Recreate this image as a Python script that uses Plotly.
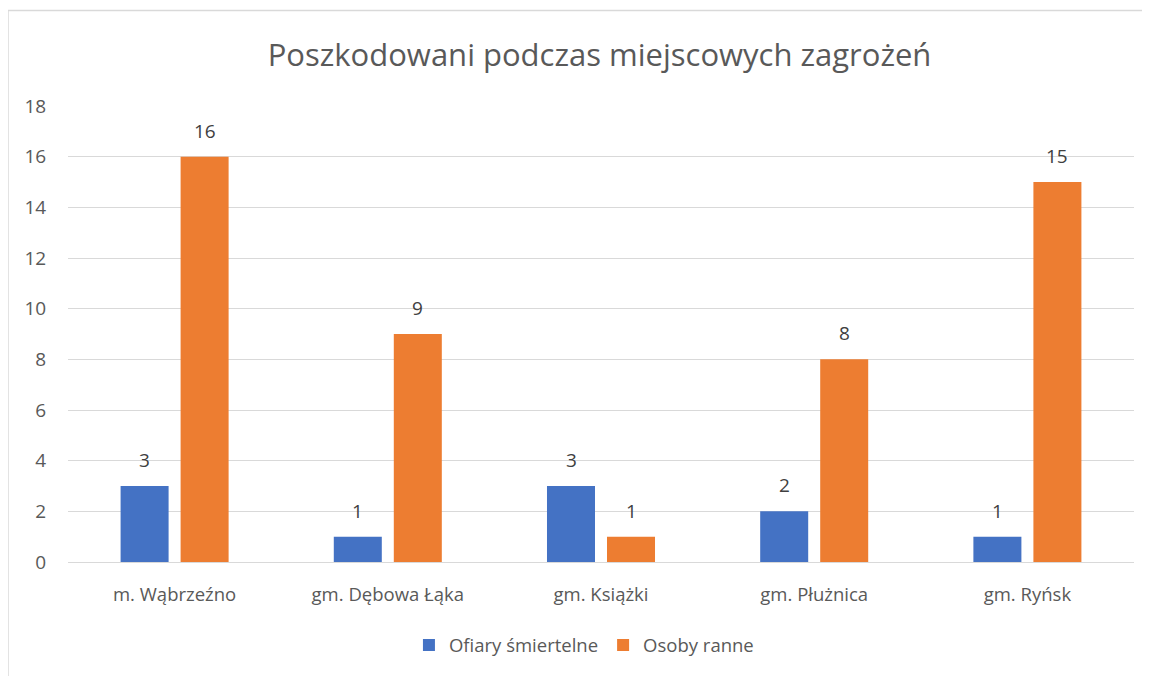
import plotly.graph_objects as go

categories = ["m. Wąbrzeźno", "gm. Dębowa Łąka", "gm. Książki", "gm. Płużnica", "gm. Ryńsk"]
ofiary = [3, 1, 3, 2, 1]
ranne = [16, 9, 1, 8, 15]
series_names = ["Ofiary śmiertelne", "Osoby ranne"]
colors = ["#4472C4", "#ED7D31"]
tick_vals = list(range(0, 19, 2))

FONT = "Open Sans"
fig = go.Figure()
for name, vals, col in zip(series_names, [ofiary, ranne], colors):
    fig.add_trace(go.Bar(x=categories, y=vals, name=name, marker_color=col,
                         marker_line_width=0, hoverinfo="x+y"))

annotations = []
for shift, vals in zip([-30, 30], [ofiary, ranne]):
    for c, v in zip(categories, vals):
        annotations.append(dict(x=c, y=v, xref="x", yref="y", text=str(v),
                                showarrow=False, yanchor="bottom", xshift=shift, yshift=11,
                                font=dict(family=FONT, size=19, color="#404040")))

fig.update_layout(
    width=1142, height=668,
    margin=dict(l=60, r=16, t=98, b=112),
    paper_bgcolor="white", plot_bgcolor="white",
    barmode="group", bargap=0.437, bargroupgap=0.2,
    title=dict(text="Poszkodowani podczas miejscowych zagrożeń", x=0.518, xanchor="center",
               y=0.93, yanchor="middle",
               font=dict(family=FONT, size=31, color="#595959")),
    font=dict(family=FONT, size=18.5, color="#595959"),
    xaxis=dict(showgrid=False, showline=True, linecolor="#d9d9d9", linewidth=1,
               ticks="outside", ticklen=16, tickcolor="rgba(0,0,0,0)",
               tickfont=dict(family=FONT, size=18.5, color="#595959")),
    yaxis=dict(range=[0, 18], tickvals=tick_vals, showgrid=True, gridcolor="#d9d9d9",
               gridwidth=1, zeroline=False, showline=False,
               ticks="outside", ticklen=17, tickcolor="rgba(0,0,0,0)",
               tickfont=dict(family=FONT, size=19, color="#595959")),
    legend=dict(orientation="h", x=0.484, xanchor="center", y=-0.183, yanchor="middle",
                font=dict(family=FONT, size=18.5, color="#595959"), itemwidth=30,
                traceorder="normal"),
    annotations=annotations,
    shapes=[
        dict(type="line", xref="paper", yref="paper", x0=-0.0563, x1=1.2, y0=1.2096, y1=1.2096,
             line=dict(color="#d9d9d9", width=1.5)),
        dict(type="line", xref="paper", yref="paper", x0=-0.0563, x1=-0.0563, y0=1.2096, y1=-0.4,
             line=dict(color="#d9d9d9", width=1.5)),
    ],
)
fig.write_html("out.html")
